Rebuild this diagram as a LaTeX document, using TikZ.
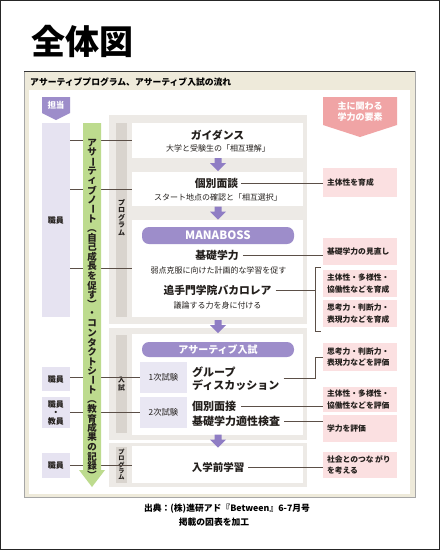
\documentclass[tikz,border=0pt]{standalone}
\usepackage{fontspec}
\usepackage{graphicx}
\setmainfont{Noto Sans CJK JP}
\usetikzlibrary{calc}
\definecolor{beigec}{HTML}{EEEADA}
\definecolor{panelc}{HTML}{EDEAE6}
\definecolor{barc}{HTML}{D9D4CE}
\definecolor{lavc}{HTML}{E6E3F1}
\definecolor{lavboxc}{HTML}{E9E7F3}
\definecolor{purplec}{HTML}{9D8DCA}
\definecolor{arrowc}{HTML}{8F7DC4}
\definecolor{greenc}{HTML}{BDDB8E}
\definecolor{pinkc}{HTML}{FBE0E1}
\definecolor{salmonc}{HTML}{F0A4A5}
\definecolor{linec}{HTML}{5B4F47}
\definecolor{textc}{HTML}{231F1C}
\newcommand\rotc[1]{\rotatebox[origin=c]{-90}{#1}}
\begin{document}
\begin{tikzpicture}[x=1pt,y=-1pt,
  every node/.style={text=textc},
  vt/.style={inner sep=0, font=\fontsize{9.5}{10}\selectfont\bfseries},
  vsm/.style={inner sep=0, font=\fontsize{6.8}{7}\selectfont\bfseries},
  conn/.style={draw=linec, line width=0.8pt},
  pinkbox/.style={fill=pinkc, minimum width=74, text width=66, inner xsep=4, inner ysep=0, align=left, font=\fontsize{7.8}{11.5}\selectfont\bfseries},
  lavbox/.style={fill=lavc, minimum width=28, inner sep=0, align=center, font=\fontsize{8}{8.5}\selectfont\bfseries},
  exbox/.style={fill=lavboxc, minimum width=47, minimum height=31, inner sep=0, font=\fontsize{8.3}{9}\selectfont},
  whitebox/.style={fill=white, minimum width=171, inner sep=0},
  headt/.style={inner sep=0, font=\fontsize{10.8}{12.5}\selectfont\bfseries},
  subt/.style={inner sep=0, font=\fontsize{8}{9}\selectfont},
  pillbar/.style={fill=purplec, rounded corners=7pt, minimum width=152, inner sep=0, text=white, font=\bfseries},
  darrow/.pic={\fill[arrowc] (-3.5,-6.5) -- (3.5,-6.5) -- (3.5,-1.5) -- (8,-1.5) -- (0,6.5) -- (-8,-1.5) -- (-3.5,-1.5) -- cycle;}
]
\useasboundingbox (0,0) rectangle (440,550);
\fill[white] (0,0) rectangle (440,550);
\draw[line width=1pt, black!85] (0.5,0.5) rectangle (439.5,549.5);

% title
\node[inner sep=0, font=\fontsize{34}{36}\selectfont\bfseries, text=black] (title) at (82.5,41) {全体図};

% main panel
\fill[beigec] (24,71) rectangle (415,497);
\draw[black!35, line width=0.5pt] (24,71) rectangle (415,497);
\draw[black!80, line width=1.3pt] (24,71.5) -- (415,71.5);
\fill[white] (29,90) rectangle (410,494);
\node[anchor=west, inner sep=0, font=\fontsize{8.8}{10}\selectfont\bfseries, text=black] (header) at (30,82) {アサーティブプログラム、アサーティブ入試の流れ};

% tag
\fill[purplec] (42,97) -- (70,97) -- (70,113) -- (56,120) -- (42,113) -- cycle;
\node[inner sep=0, text=white, font=\fontsize{8.5}{9}\selectfont\bfseries] (tag) at (56,105.5) {担当};

% salmon tag
\fill[salmonc] (323,97) -- (397,97) -- (397,125) -- (360,137) -- (323,125) -- cycle;
\node[inner sep=0, text=white, align=center, font=\fontsize{9}{11}\selectfont\bfseries] (elem) at (360,112) {主に関わる\\学力の要素};

% gray panels
\fill[panelc] (109,115) rectangle (307,324);
\fill[panelc] (109,328) rectangle (307,440);
\fill[panelc] (109,443) rectangle (307,487);
\fill[barc] (116,123) rectangle (127,317);
\fill[barc] (116,335) rectangle (127,433);
\fill[barc] (116,447) rectangle (127,483);
\foreach \ch [count=\i from 0] in {プ,ロ,グ,ラ,ム}
  \node[vsm, font=\fontsize{7}{7}\selectfont\bfseries] (pa\i) at (121.5,{203+7.5*\i}) {\ch};
\foreach \ch [count=\i from 0] in {入,試}
  \node[vsm] (nb\i) at (121.5,{380+7.5*\i}) {\ch};
\foreach \ch [count=\i from 0] in {プ,ロ,グ,ラ,ム}
  \node[vsm, font=\fontsize{6.2}{6.2}\selectfont\bfseries] (pc\i) at (121.5,{452.5+6.2*\i}) {\ch};

% white boxes
\node[whitebox, minimum height=35] (W1) at (217.5,140.5) {};
\node[whitebox, minimum height=34] (W2) at (217.5,189) {};
\node[whitebox, minimum height=97] (W3) at (217.5,268.5) {};
\node[whitebox, minimum height=101] (W4) at (217.5,384.5) {};
\node[whitebox, minimum height=37] (W5) at (217.5,464.5) {};

% arrows
\pic at (218,164.5) {darrow};
\pic at (218,213) {darrow};
\pic at (218,326.5) {darrow};
\pic at (218,441) {darrow};

% texts in boxes
\node[headt] (guid) at (217.5,135) {ガイダンス};
\node[subt] (guidsub) at (218,148) {大学と受験生の「相互理解」};
\node[headt] (kobetsu) at (216.5,183) {個別面談};
\node[subt] (kobetsusub) at (218,197) {スタート地点の確認と「相互選択」};
\node[pillbar, minimum height=17, font=\fontsize{11.5}{12}\selectfont\bfseries] (mana) at (218,235.5) {MANABOSS};
\node[headt] (kiso) at (217,255) {基礎学力};
\node[subt] (kisosub) at (218.5,270) {弱点克服に向けた計画的な学習を促す};
\node[headt] (otemon) at (217.5,290) {追手門学院バカロレア};
\node[subt] (otemonsub) at (217.5,305) {議論する力を身に付ける};
\node[pillbar, minimum height=15, font=\fontsize{10}{11}\selectfont\bfseries] (nyushi) at (218,349.5) {アサーティブ入試};
\node[exbox] (e1) at (163.5,377.5) {1次試験};
\node[exbox] (e2) at (163.5,412.5) {2次試験};
\node[headt, anchor=west, align=left, font=\fontsize{11}{12.5}\selectfont\bfseries] (gd) at (192,378.5) {グループ\\ディスカッション};
\node[headt, anchor=west, font=\fontsize{11}{12}\selectfont\bfseries] (mensetsu) at (192,406) {個別面接};
\node[headt, anchor=west, font=\fontsize{11}{12}\selectfont\bfseries] (tekisei) at (192,421) {基礎学力適性検査};
\node[headt, font=\fontsize{10.5}{12}\selectfont\bfseries] (nyugaku) at (218,467) {入学前学習};

% left lavender boxes
\node[lavbox, minimum height=194] (k1) at (56,220) {職員};
\node[lavbox, minimum height=24] (k2) at (56,379) {職員};
\node[lavbox, minimum height=31] (k3) at (56,412.5) {職員\\・\\教員};
\node[lavbox, minimum height=25] (k4) at (56,465.5) {職員};

% pink boxes
\node[pinkbox, minimum height=29] (pb1) at (360,182.5) {主体性を育成};
\node[pinkbox, minimum height=27] (pb2) at (360,251.5) {基礎学力の見直し};
\node[pinkbox, minimum height=27] (pb3) at (360,283.5) {主体性・多様性・\\協働性などを育成};
\node[pinkbox, minimum height=27] (pb4) at (360,313.5) {思考力・判断力・\\表現力などを育成};
\node[pinkbox, minimum height=28] (pb5) at (360,357) {思考力・判断力・\\表現力などを評価};
\node[pinkbox, minimum height=25] (pb6) at (360,399.5) {主体性・多様性・\\協働性などを評価};
\node[pinkbox, minimum height=27] (pb7) at (360,428.5) {学力を評価};
\node[pinkbox, minimum height=26] (pb8) at (360,465) {社会とのつな\,がり\\を考える};

% left connectors
\draw[conn] (W1.west -| k1.east) -- (W1.west);
\draw[conn] (W2.west -| k1.east) -- (W2.west);
\draw[conn] (W3.west -| k1.east) -- (W3.west);
\draw[conn] (e1.west -| k2.east) -- (e1.west);
\draw[conn] (k3.east) -- (e2.west);
\draw[conn] (k4.east) -- (k4.east -| W5.west);

% green arrow
\fill[greenc] (83,123) -- (101,123) -- (101,470) -- (105,470) -- (92,487) -- (79,470) -- (83,470) -- cycle;
\foreach \ch [count=\i from 0] in {ア,サ,\rotc{ー},テ,ィ,ブ,ノ,\rotc{ー},ト,\rotc{（},自,己,成,長,を,促,す,\rotc{）},・,コ,ン,タ,ク,ト,シ,\rotc{ー},ト,\rotc{（},教,育,成,果,の,記,録,\rotc{）}}
  \node[vt] (gv\i) at (92,{143+9.5*\i}) {\ch};

% right connectors
\coordinate (brm) at (315.5,290);
\coordinate (brt) at (320.5,267);
\coordinate (brb) at (320.5,331);
\draw[conn] ([xshift=3pt]kobetsu.east) -- (kobetsu.east -| pb1.west);
\draw[conn] ([xshift=4pt]kiso.east) -- (kiso.east -| pb2.west);
\draw[conn] ([xshift=4pt]otemon.east) -- (brm);
\draw[conn] (brt) -- (brt -| brm) -- (brb -| brm) -- (brb);
\draw[conn] ([xshift=4pt]gd.east) -- (gd.east -| brm) |- (pb5.west);
\draw[conn] ([xshift=5pt]mensetsu.east) -- (mensetsu.east -| pb6.west);
\draw[conn] ([xshift=4pt]tekisei.east) -- (tekisei.east -| pb7.west);
\draw[conn] ([xshift=4pt]nyugaku.east) -- (nyugaku.east -| pb8.west);

% footer
\node[inner sep=0, font=\fontsize{8.8}{10}\selectfont\bfseries, text=black] (src1) at (227,509) {出典：(株)進研アド『Between』6-7月号};
\node[inner sep=0, font=\fontsize{8.8}{10}\selectfont\bfseries, text=black] (src2) at (214,522) {掲載の図表を加工};
\end{tikzpicture}
\end{document}
